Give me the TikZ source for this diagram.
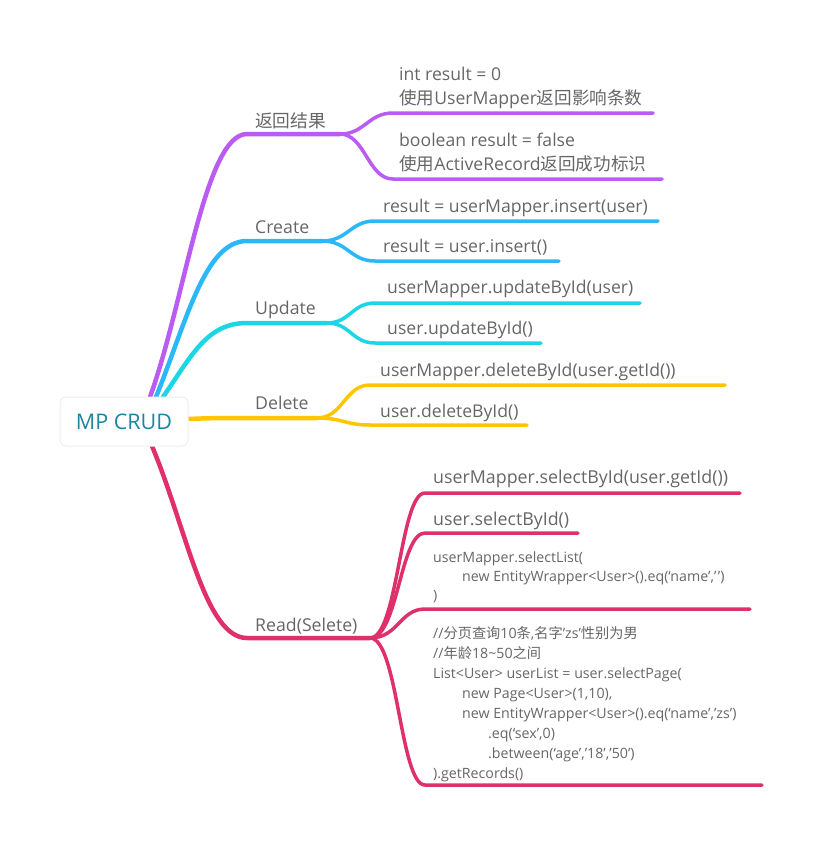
\documentclass[tikz,border=0pt]{standalone}
\usepackage{fontspec}
\setmainfont{Open Sans}
\newfontfamily\cjk{Noto Sans CJK SC}
\definecolor{cPur}{HTML}{BA5CF2}
\definecolor{cBlu}{HTML}{2AB8F8}
\definecolor{cCya}{HTML}{1CD6E6}
\definecolor{cYel}{HTML}{FFC600}
\definecolor{cRed}{HTML}{E0306C}
\definecolor{tgray}{HTML}{666666}
\definecolor{teal}{HTML}{1B869E}
\definecolor{boxline}{HTML}{EEEEEE}
\tikzset{
  br/.style={line width=4.5pt, line cap=round},
  sb/.style={line width=3.5pt, line cap=round},
  txt/.style={anchor=base west, inner sep=0pt, text=tgray, font=\fontsize{17.6}{20}\selectfont},
  big/.style={anchor=base west, inner sep=0pt, text=tgray, font=\fontsize{17.8}{22}\selectfont},
  sml/.style={anchor=base west, inner sep=0pt, text=tgray, font=\fontsize{14.2}{16}\selectfont},
  lbl/.style={anchor=base west, inner sep=0pt, text=tgray, font=\fontsize{17.7}{20}\selectfont},
}
\begin{document}
\begin{tikzpicture}[x=1pt,y=-1pt]
\useasboundingbox (0,0) rectangle (821,844);

% anchor points
\coordinate (rP) at (150,397);
\coordinate (rB) at (156,397);
\coordinate (rC) at (163,397);
\coordinate (rY) at (188,419);
\coordinate (rR) at (152,446);

\coordinate (hP) at (247,134); \coordinate (fP) at (340,134);
\coordinate (hB) at (247,241); \coordinate (fB) at (322,241);
\coordinate (hC) at (247,323); \coordinate (fC) at (327,323);
\coordinate (hY) at (247,418); \coordinate (fY) at (317,418);
\coordinate (hR) at (247,638); \coordinate (fR) at (370,638);

% main branches
\draw[br,cPur] (rP) .. controls (185,300) and (205,134) .. (hP) -- (fP);
\draw[br,cBlu] (rB) .. controls (187,320) and (205,241) .. (hB) -- (fB);
\draw[br,cCya] (rC) .. controls (192,355) and (207,323) .. (hC) -- (fC);
\draw[br,cYel] (rY) .. controls (210,418) and (225,418) .. (hY) -- (fY);
\draw[br,cRed] (rR) .. controls (187,530) and (205,638) .. (hR) -- (fR);

% sub branch end points
\coordinate (p1s) at (393,113); \coordinate (p1e) at (653,113);
\coordinate (p2s) at (393,179); \coordinate (p2e) at (662,179);
\coordinate (b1s) at (375,221); \coordinate (b1e) at (658,221);
\coordinate (b2s) at (375,261); \coordinate (b2e) at (559,261);
\coordinate (c1s) at (375,303); \coordinate (c1e) at (640,303);
\coordinate (c2s) at (375,343); \coordinate (c2e) at (541,343);
\coordinate (y1s) at (370,385); \coordinate (y1e) at (725,385);
\coordinate (y2s) at (370,425); \coordinate (y2e) at (527,425);
\coordinate (r1s) at (425,493); \coordinate (r1e) at (740,493);
\coordinate (r2s) at (425,533); \coordinate (r2e) at (578,533);
\coordinate (r3s) at (425,609); \coordinate (r3e) at (750,609);
\coordinate (r4s) at (425,785); \coordinate (r4e) at (762,785);

\draw[sb,cPur] (fP) .. controls (365,134) and (368,113) .. (p1s) -- (p1e);
\draw[sb,cPur] (fP) .. controls (365,134) and (368,179) .. (p2s) -- (p2e);
\draw[sb,cBlu] (fB) .. controls (348,241) and (350,221) .. (b1s) -- (b1e);
\draw[sb,cBlu] (fB) .. controls (348,241) and (350,261) .. (b2s) -- (b2e);
\draw[sb,cCya] (fC) .. controls (350,323) and (352,303) .. (c1s) -- (c1e);
\draw[sb,cCya] (fC) .. controls (350,323) and (352,343) .. (c2s) -- (c2e);
\draw[sb,cYel] (fY) .. controls (343,418) and (345,385) .. (y1s) -- (y1e);
\draw[sb,cYel] (fY) .. controls (343,418) and (345,425) .. (y2s) -- (y2e);
\draw[sb,cRed] (fR) .. controls (398,638) and (400,493) .. (r1s) -- (r1e);
\draw[sb,cRed] (fR) .. controls (398,638) and (400,533) .. (r2s) -- (r2e);
\draw[sb,cRed] (fR) .. controls (398,638) and (400,609) .. (r3s) -- (r3e);
\draw[sb,cRed] (fR) .. controls (398,638) and (400,785) .. (r4s) -- (r4e);

% center node
\node[draw=boxline, line width=1pt, fill=white, rounded corners=6pt, minimum width=128pt, minimum height=49pt, inner sep=0pt, text=teal, font=\fontsize{21.5}{24}\selectfont] (root) at (124,421.5) {MP CRUD};

% branch labels
\node[lbl] (lP) at (255,127) {\cjk 返回结果};
\node[lbl] (lB) at (255,233) {Create};
\node[lbl] (lC) at (255,314) {Update};
\node[lbl] (lY) at (255,409) {Delete};
\node[lbl] (lR) at (255,631) {Read(Selete)};

% leaf texts
\node[txt] (t1a) at (399,80) {int result = 0};
\node[txt] (t1b) at (399,104) {{\cjk 使用}UserMapper{\cjk 返回影响条数}};
\node[txt] (t2a) at (399,146) {boolean result = false};
\node[txt] (t2b) at (399,170) {{\cjk 使用}ActiveRecord{\cjk 返回成功标识}};
\node[txt] (t3) at (383,212) {result = userMapper.insert(user)};
\node[txt] (t4) at (383,252) {result = user.insert()};
\node[txt] (t5) at (387,293) {userMapper.updateById(user)};
\node[txt] (t6) at (387,334) {user.updateById()};
\node[txt] (t7) at (380,376) {userMapper.deleteById(user.getId())};
\node[txt] (t8) at (380,417) {user.deleteById()};
\node[big] (t9) at (433,483) {userMapper.selectById(user.getId())};
\node[big] (t10) at (433,525) {user.selectById()};

\node[sml] (s1) at (433,562) {userMapper.selectList(};
\node[sml] (s2) at (462,581) {new EntityWrapper<User>().eq(‘name’,’\kern1.5pt’)};
\node[sml] (s3) at (433,600) {)};

\node[sml] (q1) at (433,638) {//{\cjk 分页查询}10{\cjk 条},{\cjk 名字}’zs’{\cjk 性别为男}};
\node[sml] (q2) at (433,658) {//{\cjk 年龄}18\textasciitilde50{\cjk 之间}};
\node[sml] (q3) at (433,678) {List<User> userList = user.selectPage(};
\node[sml] (q4) at (462,698) {new Page<User>(1,10),};
\node[sml] (q5) at (462,718) {new EntityWrapper<User>().eq(‘name’,’zs’)};
\node[sml] (q6) at (488,738) {.eq(‘sex’,0)};
\node[sml] (q7) at (488,758) {.between(‘age’,’18’,’50’)};
\node[sml] (q8) at (433,778) {).getRecords()};
\end{tikzpicture}
\end{document}
